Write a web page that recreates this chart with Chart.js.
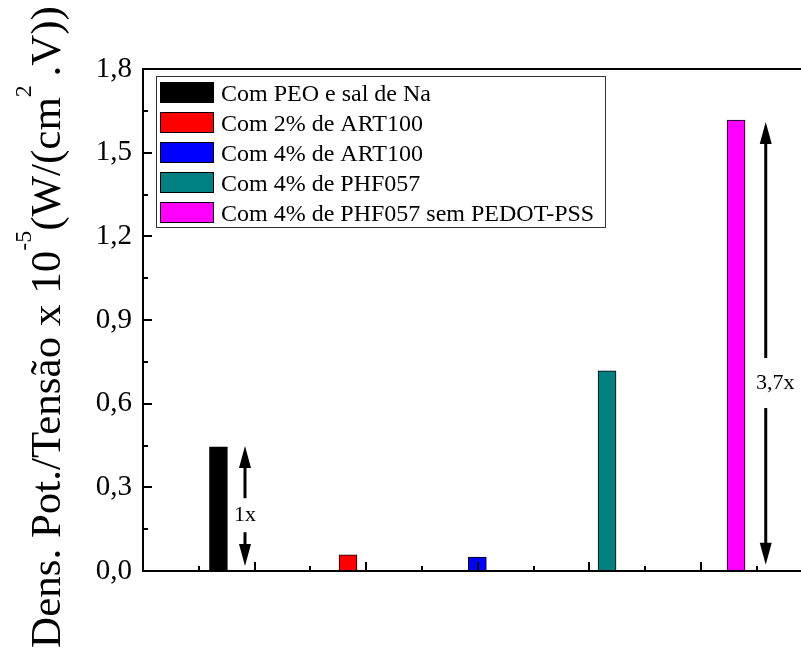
<!DOCTYPE html>
<html>
<head>
<meta charset="utf-8">
<script src="https://cdn.jsdelivr.net/npm/chart.js@4"></script>
<style>
  html, body { margin: 0; padding: 0; background: #fff; }
</style>
</head>
<body>
<canvas id="chart" width="801" height="648"></canvas>
<script>
const labels = ["Com PEO e sal de Na", "Com 2% de ART100", "Com 4% de ART100", "Com 4% de PHF057", "Com 4% de PHF057 sem PEDOT-PSS"];
const values = [0.445, 0.058, 0.050, 0.718, 1.617];
const barPos = [0.676, 1.837, 2.996, 4.158, 5.314];
const colors = ["#000000", "#ff0000", "#0000ff", "#008080", "#ff00ff"];
const yTicks = [0, 0.3, 0.6, 0.9, 1.2, 1.5, 1.8];

// arrows "1x" and "3,7x"
const arrowX = [0.914, 5.58];
const arrowTop = [0.448, 1.61];
const arrowBottom = [0.018, 0.022];
const arrowText = ["1x", "3,7x"];
const arrowTextX = [0.914, 5.665];
const arrowTextY = [0.2, 0.674];

const yTitle = [["Dens. Pot./Tensão x 10", 0], ["-5", 1], ["(W/(cm", 0], ["2", 1], ["\u2009.V))", 0]];

const serif = "'Liberation Serif', 'Times New Roman', serif";

function line(ctx, x1, y1, x2, y2) {
  ctx.beginPath(); ctx.moveTo(x1, y1); ctx.lineTo(x2, y2); ctx.stroke();
}

const frame = {
  id: "frame",
  afterDatasetsDraw(chart) {
    const { ctx, chartArea: a, scales: { x, y } } = chart;
    ctx.save();
    ctx.strokeStyle = "#000";
    ctx.lineWidth = 2;
    for (let i = 0; i <= 12; i++) {
      const py = Math.round(y.getPixelForValue(i * 0.15));
      line(ctx, a.left, py, a.left + (i % 2 ? 5 : 9), py);
    }
    for (let i = 0; i <= Math.floor(x.max * 2); i++) {
      const px = Math.round(x.getPixelForValue(i * 0.5));
      line(ctx, px, a.bottom, px, a.bottom - (i % 2 ? 5 : 9));
    }
    line(ctx, a.left, a.top, a.right, a.top);
    line(ctx, a.left, a.top - 1, a.left, a.bottom + 1);
    line(ctx, a.left - 1, a.bottom, a.right, a.bottom);

    // arrows
    ctx.fillStyle = "#000";
    ctx.lineWidth = 3;
    ctx.font = "22px " + serif;
    ctx.textAlign = "center";
    ctx.textBaseline = "middle";
    arrowX.forEach((v, i) => {
      const px = x.getPixelForValue(v);
      const top = y.getPixelForValue(arrowTop[i]);
      const bot = y.getPixelForValue(arrowBottom[i]);
      const ty = y.getPixelForValue(arrowTextY[i]);
      const gap = i ? 25 : 17;
      line(ctx, px, top + 15, px, ty - gap);
      line(ctx, px, ty + gap, px, bot - 15);
      ctx.beginPath();
      ctx.moveTo(px, top); ctx.lineTo(px - 6, top + 22); ctx.lineTo(px + 6, top + 22); ctx.closePath(); ctx.fill();
      ctx.beginPath();
      ctx.moveTo(px, bot); ctx.lineTo(px - 6, bot - 22); ctx.lineTo(px + 6, bot - 22); ctx.closePath(); ctx.fill();
      ctx.fillText(arrowText[i], x.getPixelForValue(arrowTextX[i]), ty);
    });
    ctx.restore();
  },
  afterDraw(chart) {
    const ctx = chart.ctx;
    ctx.save();
    // legend box
    ctx.fillStyle = "#fff";
    ctx.fillRect(156, 76, 449, 151);
    ctx.strokeStyle = "#333";
    ctx.lineWidth = 1;
    ctx.strokeRect(156.5, 76.5, 449, 151);
    ctx.font = "24px " + serif;
    ctx.textAlign = "left";
    ctx.textBaseline = "alphabetic";
    chart.data.datasets.forEach((ds, i) => {
      const top = 82 + i * 30;
      ctx.fillStyle = ds.backgroundColor;
      ctx.fillRect(160, top, 54, 21);
      ctx.strokeStyle = "#000";
      ctx.strokeRect(160.5, top + 0.5, 53, 20);
      ctx.fillStyle = "#000";
      ctx.fillText(ds.label, 221, top + 18.5);
    });

    // y title with superscripts
    ctx.translate(60, 327);
    ctx.rotate(-Math.PI / 2);
    ctx.fillStyle = "#000";
    const fonts = ["43px " + serif, "24px " + serif];
    let total = 0;
    yTitle.forEach(([t, s]) => { ctx.font = fonts[s]; total += ctx.measureText(t).width; });
    let cx = -total / 2;
    yTitle.forEach(([t, s]) => {
      ctx.font = fonts[s];
      ctx.fillText(t, cx, s ? -29 : 0);
      cx += ctx.measureText(t).width;
    });
    ctx.restore();
  }
};

new Chart(document.getElementById("chart"), {
  type: "bar",
  data: {
    datasets: labels.map((l, i) => ({
      label: l,
      data: [{ x: barPos[i], y: values[i] }],
      backgroundColor: colors[i],
      borderColor: "#000",
      borderWidth: 1,
      barThickness: 18,
      grouped: false
    }))
  },
  options: {
    responsive: false,
    animation: false,
    layout: { padding: { top: 69, left: 0, right: 0, bottom: 0 } },
    plugins: { legend: { display: false }, tooltip: { enabled: false } },
    scales: {
      x: {
        type: "linear",
        min: 0,
        max: 5.896,
        offset: false,
        grid: { display: false },
        border: { display: false },
        ticks: { display: false },
        afterFit: s => { s.height = 77; }
      },
      y: {
        min: 0,
        max: 1.8,
        grid: { display: false, drawTicks: false },
        border: { display: false },
        afterBuildTicks: s => { s.ticks = yTicks.map(v => ({ value: v })); },
        ticks: {
          color: "#000",
          padding: 11,
          font: { family: serif, size: 29 },
          callback: v => v.toFixed(1).replace(".", ",")
        },
        afterFit: s => { s.width = 143; }
      }
    }
  },
  plugins: [frame]
});
</script>
</body>
</html>
